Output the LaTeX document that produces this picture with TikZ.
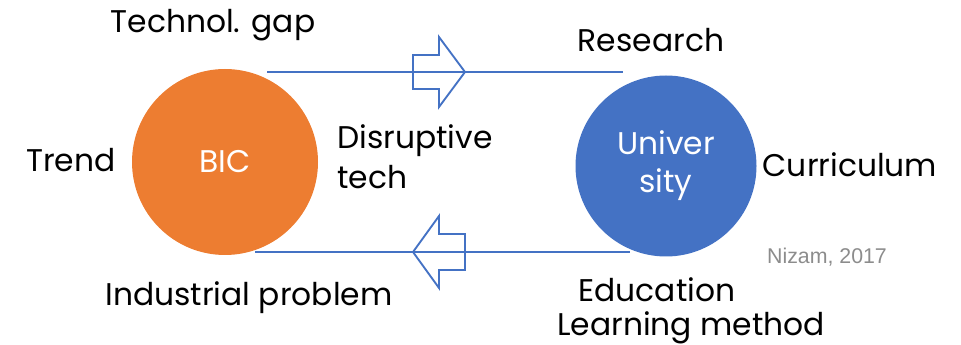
\documentclass[tikz,border=0pt]{standalone}
\usepackage{fontspec}
\setmainfont{Poppins}
\newfontfamily\notefont{Liberation Sans}
\definecolor{bicorange}{HTML}{ED7D31}
\definecolor{unblue}{HTML}{4472C4}
\definecolor{notegray}{HTML}{8C8C8C}
\begin{document}
\begin{tikzpicture}[x=0.75pt,y=-0.75pt,
  lbl/.style={font=\fontsize{23.5}{30}\selectfont, inner sep=0pt, align=center},
  circ/.style={circle, inner sep=0pt, text=white, font=\fontsize{23.5}{28.5}\selectfont, align=center},
  link/.style={draw=unblue, line width=1.4pt},
  bigarrow/.style={draw=unblue, line width=1.4pt, line join=miter}]
\useasboundingbox (0,0) rectangle (961,345);
\node[circ, fill=bicorange, minimum size=186*0.75pt] (bic) at (225,162) {BIC};
\node[circ, fill=unblue, minimum size=181*0.75pt] (uni) at (666,166) {Univer\\sity};
\coordinate (t1) at (267,72);
\coordinate (t2) at (623,72);
\coordinate (b1) at (255,252);
\coordinate (b2) at (630,252);
\draw[link] (t1) -- (t2);
\draw[link] (b1) -- (b2);
\draw[bigarrow] (413,55) -- (439,55) -- (439,37) -- (465,72) -- (439,107) -- (439,89) -- (413,89) -- cycle;
\draw[bigarrow] (465,234) -- (439,234) -- (439,216) -- (413,252) -- (439,288) -- (439,270) -- (465,270) -- cycle;
\node[lbl] (tg) at (213,25) {Technol. gap};
\node[lbl] (res) at (651,40) {Research};
\node[lbl] (trend) at (71,160) {Trend};
\node[lbl, align=left, anchor=west] (dis) at (337,157) {Disruptive\\tech};
\node[lbl] (cur) at (850,165) {Curriculum};
\node[font=\notefont\fontsize{16}{18}\selectfont, text=notegray, inner sep=0pt] (niz) at (827,257) {Nizam, 2017};
\node[lbl] (ind) at (249,298) {Industrial problem};
\node[lbl] (edu) at (657,290) {Education};
\node[lbl] (lm) at (691,328) {Learning method};
\end{tikzpicture}
\end{document}
